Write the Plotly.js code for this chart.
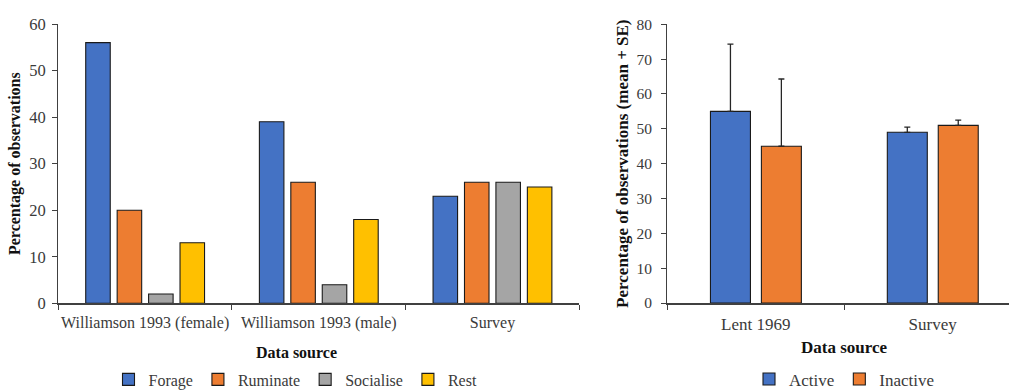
<!DOCTYPE html>
<html>
<head>
<meta charset="utf-8">
<script src="https://cdn.plot.ly/plotly-3.0.1.min.js"></script>
<style>
  html, body { margin: 0; padding: 0; background: #ffffff; }
  #chart { width: 1009px; height: 390px; }
</style>
</head>
<body>
<div id="chart"></div>
<script>
// ---- Data ----
const behaviourCategories = ['Williamson 1993 (female)', 'Williamson 1993 (male)', 'Survey'];
const forage    = [56, 39, 23];
const ruminate  = [20, 26, 26];
const socialise = [2, 4, 26];
const rest      = [13, 18, 25];

const activityCategories = ['Lent 1969', 'Survey'];
const active     = [55, 49];
const inactive   = [45, 51];
const activeSE   = [19.3, 1.5];
const inactiveSE = [19.3, 1.5];

const leftTickVals  = [0, 10, 20, 30, 40, 50, 60];
const rightTickVals = [0, 10, 20, 30, 40, 50, 60, 70, 80];

// ---- Styles ----
const FONT = '"Liberation Serif", "Times New Roman", serif';
const TICK_COLOR = '#3a3a3a';
const AXIS_COLOR = '#404040';
const OUTLINE = { color: '#1a1a1a', width: 1.1 };
const W = 1009, H = 390;

function leftBar(name, values, color) {
  return {
    type: 'bar', name: name, x: behaviourCategories, y: values,
    xaxis: 'x', yaxis: 'y', legend: 'legend',
    marker: { color: color, line: OUTLINE },
    hoverinfo: 'x+y+name'
  };
}
function rightBar(name, values, se, color, offset) {
  return {
    type: 'bar', name: name, x: activityCategories, y: values,
    xaxis: 'x2', yaxis: 'y2', legend: 'legend2',
    width: 0.226, offset: offset,
    marker: { color: color, line: OUTLINE },
    error_y: { type: 'data', symmetric: false, array: se, arrayminus: se.map(() => 0),
               color: '#262626', thickness: 1.3, width: 3 },
    hoverinfo: 'x+y+name'
  };
}

const traces = [
  leftBar('Forage', forage, '#4472C4'),
  leftBar('Ruminate', ruminate, '#ED7D31'),
  leftBar('Socialise', socialise, '#A5A5A5'),
  leftBar('Rest', rest, '#FFC000'),
  rightBar('Active', active, activeSE, '#4472C4', -0.256),
  rightBar('Inactive', inactive, inactiveSE, '#ED7D31', 0.032)
];

const layout = {
  width: W, height: H,
  margin: { l: 0, r: 0, t: 0, b: 0, autoexpand: false },
  paper_bgcolor: '#ffffff', plot_bgcolor: 'rgba(0,0,0,0)',
  font: { family: FONT, color: TICK_COLOR },
  barmode: 'group', bargap: 0.276, bargroupgap: 0.22,
  showlegend: true,
  xaxis: {
    domain: [58.3 / W, 579.3 / W], range: [-0.5, 2.5], type: 'category',
    showline: true, linecolor: AXIS_COLOR, linewidth: 1.3,
    ticks: 'outside', tickson: 'boundaries', ticklen: 5, tickcolor: AXIS_COLOR,
    ticklabelstandoff: 4, tickangle: 0,
    tickfont: { family: FONT, size: 16, color: TICK_COLOR },
    showgrid: false, zeroline: false, fixedrange: true, automargin: false
  },
  yaxis: {
    domain: [1 - 303.3 / H, 1 - 24 / H], range: [0, 60],
    tickvals: leftTickVals, ticktext: leftTickVals.map(String),
    showline: true, linecolor: AXIS_COLOR, linewidth: 1.3,
    ticks: 'outside', ticklen: 5, tickcolor: AXIS_COLOR,
    ticklabelstandoff: 3,
    tickfont: { family: FONT, size: 16.5, color: TICK_COLOR },
    showgrid: false, zeroline: false, fixedrange: true, automargin: false,
    title: { text: '<b>Percentage of observations</b>', standoff: 4,
             font: { family: FONT, size: 16, color: '#111111' } }
  },
  xaxis2: {
    domain: [667.3 / W, 1], range: [-0.5, 1.432], type: 'category',
    showline: true, linecolor: AXIS_COLOR, linewidth: 1.3,
    ticks: 'outside', tickson: 'boundaries', ticklen: 5, tickcolor: AXIS_COLOR,
    ticklabelstandoff: 5, tickangle: 0,
    tickfont: { family: FONT, size: 17, color: TICK_COLOR },
    showgrid: false, zeroline: false, fixedrange: true, automargin: false
  },
  yaxis2: {
    anchor: 'x2',
    domain: [1 - 303 / H, 1 - 24.3 / H], range: [0, 80],
    tickvals: rightTickVals, ticktext: rightTickVals.map(String),
    showline: true, linecolor: AXIS_COLOR, linewidth: 1.3,
    ticks: 'outside', ticklen: 5, tickcolor: AXIS_COLOR,
    ticklabelstandoff: 6,
    tickfont: { family: FONT, size: 15.5, color: TICK_COLOR },
    showgrid: false, zeroline: false, fixedrange: true, automargin: false,
    title: { text: '<b>Percentage of observations (mean + SE)</b>', standoff: 3,
             font: { family: FONT, size: 17, color: '#111111' } }
  },
  legend: {
    orientation: 'h', x: 295.5 / W, xanchor: 'center', y: 1 - 379.5 / H, yanchor: 'middle',
    font: { family: FONT, size: 16, color: TICK_COLOR }, bgcolor: 'rgba(0,0,0,0)',
    traceorder: 'normal', itemwidth: 30
  },
  legend2: {
    orientation: 'h', x: 844.5 / W, xanchor: 'center', y: 1 - 379.5 / H, yanchor: 'middle',
    font: { family: FONT, size: 17, color: TICK_COLOR }, bgcolor: 'rgba(0,0,0,0)',
    traceorder: 'normal', itemwidth: 30
  },
  annotations: [
    { text: '<b>Data source</b>', xref: 'paper', yref: 'paper', x: 296.3 / W, y: 1 - 352 / H,
      xanchor: 'center', yanchor: 'middle', showarrow: false,
      font: { family: FONT, size: 16, color: '#111111' } },
    { text: '<b>Data source</b>', xref: 'paper', yref: 'paper', x: 844.5 / W, y: 1 - 347.5 / H,
      xanchor: 'center', yanchor: 'middle', showarrow: false,
      font: { family: FONT, size: 17, color: '#111111' } }
  ]
};

Plotly.newPlot('chart', traces, layout, { displayModeBar: false, staticPlot: true });
</script>
</body>
</html>
